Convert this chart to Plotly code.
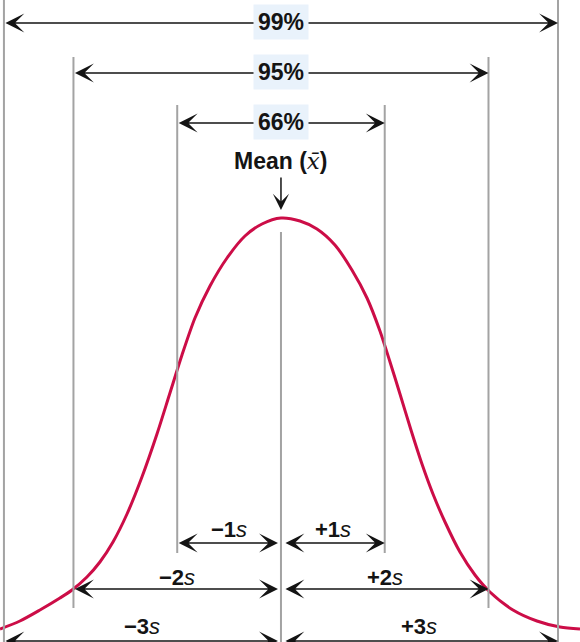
import plotly.graph_objects as go

# ---- data (x in units of s from the mean, y = curve height in chart units) ----
curve_x = [-2.708, -2.516, -2.323, -2.130, -2.014, -1.870, -1.745, -1.619, -1.484,
           -1.340, -1.195, -1.070, -0.954, -0.829, -0.684, -0.520, -0.347, -0.183,
           0.0,
           0.183, 0.347, 0.520, 0.684, 0.829, 0.954, 1.051, 1.147, 1.253, 1.359,
           1.465, 1.581, 1.725, 1.870, 2.014, 2.236, 2.467, 2.689, 2.882]
curve_y = [13, 21, 32, 44, 52, 65, 80, 100, 128,
           165, 208, 249, 287, 324, 356, 384, 406, 418,
           424,
           421, 413, 397, 372, 344, 311, 280, 248, 212, 178,
           148, 120, 90, 67, 50, 32, 21, 15, 13]

# boundary positions (schematic, in s)
bound_1 = 1.0
bound_2 = 2.0
bound_3 = 2.67
mean_x = 0.0

pct_labels = ["99%", "95%", "66%"]
pct_bounds = [bound_3, bound_2, bound_1]

side_labels_left = ["−1", "−2", "−3"]
side_labels_right = ["+1", "+2", "+3"]
side_bounds = [bound_1, bound_2, bound_3]

# ---- layout constants ----
W, H = 580, 642
XR = [-2.708, 2.882]
YR = [0, 642]
pct_arrow_y = [619, 569, 519]
line_tops = {bound_3: 642, bound_2: 585, bound_1: 537}
line_bottoms = {bound_3: 0, bound_2: 34, bound_1: 89}
side_arrow_y = [99, 53, 1]
side_text_y = [113, 65, 16]

GRAY = "#a3a3a3"
RED = "#cc0d47"
INK = "#141414"
FONT = "Liberation Sans"

fig = go.Figure()

# vertical guide lines
shapes = []
for b in [bound_3, bound_2, bound_1]:
    for sgn in (-1, 1):
        shapes.append(dict(type="line", xref="x", yref="y", x0=sgn * b, x1=sgn * b,
                           y0=line_bottoms[b], y1=line_tops[b],
                           line=dict(color=GRAY, width=2)))
shapes.append(dict(type="line", xref="x", yref="y", x0=mean_x, x1=mean_x,
                   y0=0, y1=410, line=dict(color=GRAY, width=2)))

fig.add_trace(go.Scatter(x=curve_x, y=curve_y, mode="lines",
                         line=dict(color=RED, width=3, shape="spline", smoothing=0.8),
                         hoverinfo="skip", showlegend=False))

ann = []


def darrow(xa, xb, y, s0=0, s1=0):
    ann.append(dict(x=xb, y=y, ax=xa, ay=y, xref="x", yref="y", axref="x", ayref="y",
                    text="", showarrow=True, arrowhead=3, startarrowhead=3,
                    arrowside="end+start", arrowsize=2.1, startarrowsize=2.1,
                    arrowwidth=1.5, arrowcolor=INK, standoff=s1, startstandoff=s0))


# percentage arrows
for lab, b, y in zip(pct_labels, pct_bounds, pct_arrow_y):
    darrow(-b, b, y)
    ann.append(dict(x=mean_x, y=y, xref="x", yref="y", showarrow=False,
                    text="<b>%s</b>" % lab, font=dict(family=FONT, size=23, color=INK),
                    bgcolor="#e9f2fb", borderpad=4, yshift=1))

# side arrows
for labl, labr, b, ya, yt in zip(side_labels_left, side_labels_right, side_bounds,
                                  side_arrow_y, side_text_y):
    darrow(-b, mean_x, ya, s1=3)
    darrow(mean_x, b, ya, s0=3)
    ann.append(dict(x=-b / 2, y=yt, xref="x", yref="y", showarrow=False,
                    text="<b>%s</b><i>s</i>" % labl,
                    font=dict(family=FONT, size=22, color=INK)))
    ann.append(dict(x=b / 2, y=yt, xref="x", yref="y", showarrow=False,
                    text="<b>%s</b><i>s</i>" % labr,
                    font=dict(family=FONT, size=22, color=INK)))

# mean label and arrow
ann.append(dict(x=mean_x, y=432, ax=mean_x, ay=466, xref="x", yref="y", axref="x",
                ayref="y", text="", showarrow=True, arrowhead=3, arrowsize=1.8,
                arrowwidth=1.5, arrowcolor=INK))
ann.append(dict(x=mean_x, y=481, xref="x", yref="y", showarrow=False,
                text="<b>Mean (</b><span style=\"font-family:'DejaVu Serif';font-style:italic\">x\u0304</span><b>)</b>",
                font=dict(family=FONT, size=23, color=INK)))

fig.update_layout(
    width=W, height=H,
    margin=dict(l=0, r=0, t=0, b=0),
    paper_bgcolor="white", plot_bgcolor="white",
    xaxis=dict(range=XR, visible=False, fixedrange=True),
    yaxis=dict(range=YR, visible=False, fixedrange=True),
    shapes=shapes, annotations=ann, showlegend=False,
)

fig.write_html("out.html")
